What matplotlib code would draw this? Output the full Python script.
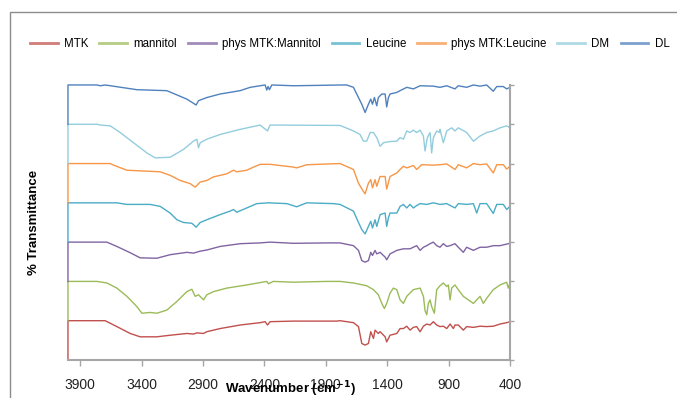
import matplotlib
matplotlib.use("Agg")
import matplotlib.pyplot as plt
from matplotlib.patches import Rectangle

plt.rcParams['font.family'] = ['Liberation Sans', 'DejaVu Sans']
plt.rcParams['mathtext.default'] = 'bf'

# FTIR spectra, relative transmittance (1 = baseline)
wn_mtk = [4000, 4000, 3764, 3697, 3602, 3493, 3412, 3276, 3168, 3032, 2978, 2950, 2896, 2869,
          2761, 2598, 2435, 2394, 2375, 2354, 2164, 1811, 1784, 1675, 1634, 1607, 1580, 1553,
          1534, 1512, 1499, 1472, 1458, 1417, 1404, 1377, 1322, 1295, 1268, 1241, 1214, 1187,
          1160, 1132, 1105, 1078, 1051, 1024, 997, 970, 943, 915, 888, 861, 848, 821, 780, 753,
          698, 644, 590, 536, 481, 427, 400]
t_mtk = [0, 1.0, 1.0, 1.0, 0.85, 0.675, 0.59, 0.59, 0.63, 0.675, 0.66, 0.69, 0.675, 0.72,
         0.80, 0.89, 0.95, 0.975, 0.89, 0.975, 0.99, 0.99, 1.0, 0.95, 0.85, 0.42, 0.38, 0.42,
         0.72, 0.55, 0.76, 0.675, 0.72, 0.59, 0.46, 0.63, 0.675, 0.80, 0.80, 0.86, 0.76, 0.83,
         0.85, 0.72, 0.86, 0.915, 0.89, 0.975, 0.89, 0.85, 0.86, 0.80, 0.915, 0.80, 0.89, 0.89,
         0.76, 0.85, 0.83, 0.86, 0.85, 0.86, 0.915, 0.95, 0.975]

wn_mannitol = [4000, 4000, 3764, 3683, 3602, 3520, 3439, 3398, 3330, 3276, 3195, 3113, 3032,
               2991, 2964, 2937, 2896, 2869, 2815, 2706, 2544, 2435, 2381, 2367, 2327, 2164,
               1892, 1784, 1675, 1567, 1512, 1472, 1444, 1423, 1404, 1377, 1350, 1322, 1295,
               1268, 1241, 1187, 1132, 1105, 1092, 1078, 1065, 1051, 1038, 1016, 997, 970, 943,
               915, 902, 888, 875, 848, 821, 780, 739, 698, 671, 644, 617, 590, 536, 481, 427,
               414, 400]
t_mannitol = [0, 1.0, 1.0, 0.96, 0.83, 0.62, 0.36, 0.19, 0.21, 0.19, 0.27, 0.49, 0.74,
              0.80, 0.62, 0.66, 0.53, 0.66, 0.74, 0.83, 0.91, 0.97, 1.0, 0.94, 1.0, 0.98,
              1.0, 1.0, 0.96, 0.89, 0.79, 0.66, 0.44, 0.31, 0.44, 0.70, 0.83, 0.79, 0.53,
              0.44, 0.62, 0.79, 0.83, 0.62, 0.26, 0.15, 0.44, 0.53, 0.36, 0.19, 0.79, 0.89, 0.96,
              0.87, 0.91, 0.53, 0.83, 0.91, 0.79, 0.62, 0.53, 0.44, 0.53, 0.62, 0.44, 0.57, 0.79,
              0.91, 0.98, 0.83, 0.96]

wn_pmm = [4000, 4000, 3683, 3602, 3493, 3412, 3276, 3168, 3032, 2978, 2923, 2869, 2761, 2598,
          2435, 2354, 2164, 1892, 1784, 1675, 1634, 1607, 1580, 1553, 1534, 1520, 1499, 1485,
          1458, 1417, 1404, 1377, 1322, 1268, 1214, 1160, 1132, 1105, 1078, 1051, 1024, 997,
          970, 943, 915, 888, 848, 821, 780, 753, 698, 644, 590, 536, 481, 400]
t_pmm = [0, 1.0, 1.0, 0.89, 0.73, 0.60, 0.59, 0.68, 0.74, 0.72, 0.77, 0.80, 0.89, 0.96,
         0.98, 1.0, 0.97, 0.98, 0.98, 0.91, 0.79, 0.53, 0.49, 0.53, 0.74, 0.66, 0.79, 0.70,
         0.74, 0.62, 0.55, 0.70, 0.79, 0.83, 0.83, 0.91, 0.79, 0.87, 0.91, 0.96, 1.0, 0.91,
         0.87, 0.96, 0.89, 0.91, 0.96, 0.87, 0.74, 0.87, 0.79, 0.87, 0.87, 0.91, 0.91, 0.97]

wn_leucine = [4000, 4000, 3602, 3520, 3330, 3249, 3168, 3113, 3059, 2991, 2956, 2923, 2869,
              2761, 2679, 2652, 2625, 2544, 2462, 2367, 2218, 2137, 2055, 1838, 1784, 1675,
              1634, 1607, 1580, 1553, 1534, 1520, 1499, 1485, 1458, 1417, 1404, 1390, 1377,
              1322, 1295, 1268, 1241, 1214, 1187, 1160, 1132, 1078, 1024, 970, 915, 848, 821,
              753, 698, 671, 644, 590, 536, 508, 454, 427, 400]
t_leucine = [0, 1.0, 1.0, 0.96, 0.96, 0.91, 0.74, 0.57, 0.50, 0.48, 0.38, 0.50, 0.57,
             0.70, 0.79, 0.83, 0.76, 0.87, 0.98, 1.0, 0.98, 0.90, 1.0, 0.98, 0.96, 0.79,
             0.50, 0.32, 0.21, 0.40, 0.53, 0.36, 0.57, 0.40, 0.70, 0.74, 0.40, 0.62, 0.74,
             0.74, 0.91, 0.96, 0.87, 0.96, 0.87, 0.93, 0.98, 0.96, 1.0, 0.96, 0.98, 0.87, 0.98,
             0.96, 0.98, 0.74, 0.98, 0.98, 0.73, 0.96, 0.96, 0.83, 0.91]

wn_pml = [4000, 4000, 3656, 3629, 3520, 3249, 3168, 3086, 3005, 2964, 2923, 2869, 2815, 2706,
          2652, 2625, 2544, 2489, 2435, 2354, 2164, 2137, 2055, 1784, 1675, 1634, 1594, 1580,
          1553, 1534, 1520, 1499, 1485, 1458, 1417, 1404, 1377, 1322, 1295, 1268, 1241, 1187,
          1160, 1119, 1024, 970, 915, 848, 821, 753, 698, 644, 590, 536, 508, 454, 427, 400]
t_pml = [0, 1.0, 1.0, 0.96, 0.83, 0.79, 0.70, 0.57, 0.49, 0.40, 0.53, 0.57, 0.66, 0.74,
         0.83, 0.79, 0.83, 0.91, 0.98, 0.98, 0.91, 0.89, 0.97, 1.0, 0.85, 0.50, 0.29, 0.23,
         0.50, 0.59, 0.38, 0.59, 0.42, 0.67, 0.67, 0.35, 0.67, 0.76, 0.85, 0.93, 0.89, 0.95,
         0.85, 0.97, 0.96, 0.97, 0.99, 0.85, 0.97, 0.89, 1.0, 0.97, 0.99, 0.76, 0.97, 0.97,
         0.86, 0.93]

wn_dm = [4000, 4000, 3764, 3737, 3656, 3575, 3466, 3357, 3290, 3168, 3059, 2978, 2950, 2937,
         2923, 2869, 2761, 2598, 2435, 2375, 2354, 1784, 1675, 1621, 1594, 1567, 1539, 1512,
         1485, 1458, 1431, 1377, 1322, 1295, 1268, 1241, 1214, 1187, 1160, 1132, 1105, 1092,
         1073, 1051, 1038, 1024, 997, 975, 970, 943, 915, 875, 848, 821, 753, 698, 644, 590,
         536, 481, 427, 400]
t_dm = [0, 1.0, 1.0, 0.98, 0.96, 0.79, 0.53, 0.27, 0.145, 0.16, 0.36, 0.57, 0.62, 0.40,
        0.53, 0.62, 0.74, 0.87, 0.98, 0.83, 0.98, 0.97, 0.83, 0.74, 0.57, 0.57, 0.79, 0.79,
        0.66, 0.44, 0.53, 0.56, 0.57, 0.66, 0.62, 0.83, 0.79, 0.85, 0.79, 0.85, 0.70, 0.32,
        0.66, 0.79, 0.27, 0.66, 0.83, 0.79, 0.87, 0.53, 0.83, 0.91, 0.83, 0.91, 0.79, 0.57,
        0.70, 0.79, 0.83, 0.91, 0.96, 0.91]

wn_dl = [4000, 4000, 3764, 3737, 3697, 3439, 3195, 3032, 2956, 2937, 2869, 2761, 2598, 2516,
         2435, 2394, 2381, 2370, 2359, 2340, 2164, 1757, 1730, 1675, 1634, 1607, 1580, 1553,
         1534, 1520, 1504, 1485, 1472, 1444, 1417, 1404, 1390, 1377, 1322, 1295, 1241, 1187,
         1132, 1024, 970, 915, 848, 821, 753, 698, 644, 590, 536, 508, 454, 427, 400]
t_dl = [0, 1.0, 1.0, 0.98, 1.0, 0.88, 0.855, 0.64, 0.49, 0.60, 0.68, 0.77, 0.855, 0.94,
        0.98, 1.0, 0.87, 0.96, 0.88, 1.0, 0.98, 1.0, 1.0, 0.94, 0.68, 0.51, 0.30, 0.51,
        0.64, 0.51, 0.68, 0.47, 0.68, 0.77, 0.77, 0.44, 0.68, 0.77, 0.81, 0.855, 0.94, 0.90,
        0.98, 0.97, 0.94, 0.98, 0.90, 0.98, 0.94, 1.0, 0.97, 1.0, 0.84, 0.96, 0.96, 0.90, 0.94]

labels = ['MTK', 'mannitol', 'phys MTK:Mannitol', 'Leucine', 'phys MTK:Leucine', 'DM', 'DL']
colors = ['#C0504D', '#9BBB59', '#8064A2', '#4BACC6', '#F79646', '#93CDDD', '#4F81BD']
series = [(wn_mtk, t_mtk), (wn_mannitol, t_mannitol), (wn_pmm, t_pmm), (wn_leucine, t_leucine),
          (wn_pml, t_pml), (wn_dm, t_dm), (wn_dl, t_dl)]

fig = plt.figure(figsize=(6.77, 3.98), dpi=100)
ax = fig.add_axes([0.1004, 0.0955, 0.6529, 0.691])

# each spectrum stacked one unit above the previous
for i, ((wn, t), lab, c) in enumerate(zip(series, labels, colors)):
    ax.plot(wn, [v + i for v in t], color=c, lw=1.0, label=lab, clip_on=False)

ax.set_xlim(4000, 400)
ax.set_ylim(0, 7)
ax.set_xticks([3900, 3400, 2900, 2400, 1900, 1400, 900, 400])
ax.set_yticks(range(8))
ax.yaxis.tick_right()
ax.tick_params(axis='y', labelright=False, direction='out', length=3, color='#A6A6A6', width=1)
ax.tick_params(axis='x', direction='out', length=4, color='#A6A6A6', width=1,
               labelsize=10, pad=9, labelcolor='#222222')
for s in ['left', 'top']:
    ax.spines[s].set_visible(False)
for s in ['right', 'bottom']:
    ax.spines[s].set_color('#A6A6A6')
    ax.spines[s].set_linewidth(1.5)

ax.set_ylabel('% Transmittance', fontsize=9.5, fontweight='bold', labelpad=20)
ax.yaxis.set_label_position('left')
fig.text(290 / 677, 1 - 389 / 398, 'Wavenumber (cm$^{-1}$)', fontsize=9.5, fontweight='bold',
         ha='center', va='center')

handles, labs = ax.get_legend_handles_labels()
leg = fig.legend(handles, labs, loc='center left', bbox_to_anchor=(30 / 677, 1 - 44 / 398),
                 ncol=7, frameon=False, fontsize=8.3, handlelength=2.4, handletextpad=0.55,
                 columnspacing=0.95, borderpad=0, borderaxespad=0)
for h in leg.get_lines():
    h.set_linewidth(2)
    h.set_alpha(0.75)

fig.patches.append(Rectangle((10 / 677, -0.1), 1.2, 0.1 + 386 / 398, transform=fig.transFigure,
                             fill=False, ec='#8C8C8C', lw=1))

fig.savefig('out.png', dpi=100)
